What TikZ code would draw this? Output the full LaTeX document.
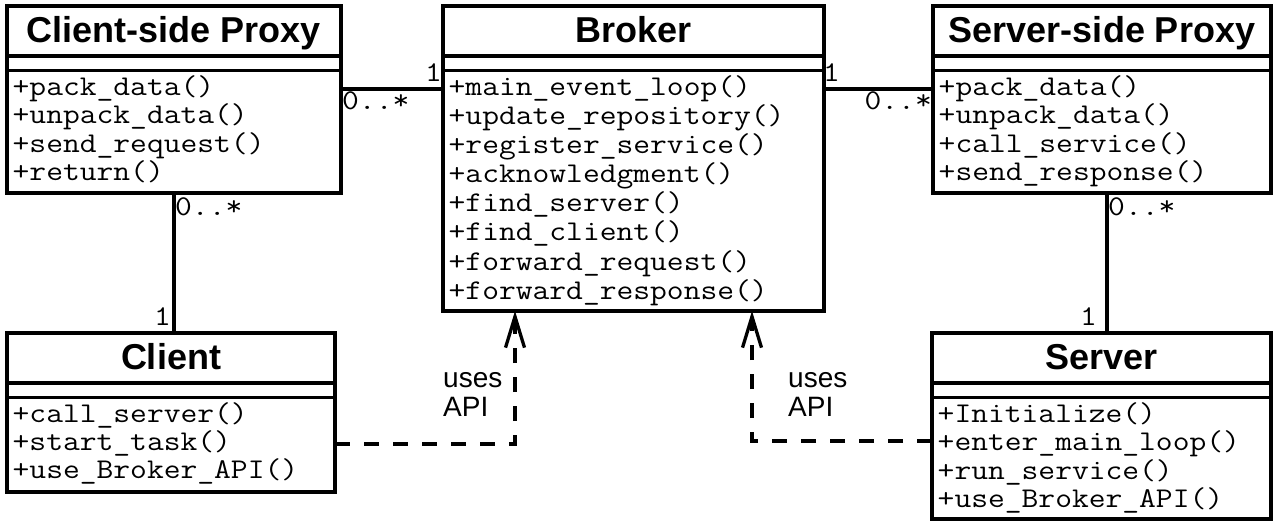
\documentclass[tikz,border=0pt]{standalone}
\usepackage{fontspec}
\setmainfont{Liberation Sans}
\usetikzlibrary{calc,arrows.meta}

% Courier-like typewriter text: Latin Modern Mono widened to Courier's advance
\newcommand{\cour}[1]{\scalebox{1.14}[1]{#1}}

\tikzset{
  classbox/.style={draw, line width=3.3pt, inner sep=0pt, outer sep=0pt},
  boxline/.style={line width=3.3pt},
  titletext/.style={font=\fontsize{36}{40}\selectfont\bfseries, inner sep=0pt},
  methodtext/.style={font=\fontsize{28.6}{29}\selectfont\ttfamily, inner sep=0pt},
  multtext/.style={font=\fontsize{28.6}{29}\selectfont\ttfamily, inner sep=0pt},
  notetext/.style={font=\fontsize{28}{29}\selectfont, inner sep=0pt},
  assoc/.style={line width=3.3pt},
  dependency/.style={line width=3.3pt, dash pattern=on 15pt off 14pt,
    -{Straight Barb[length=31pt,width=19pt,line width=3.3pt]}},
}

% UML class: name, left x, top y, width, height, method pitch, title, methods
\newcommand{\umlclass}[8]{%
  \node[classbox, minimum width=#4pt, minimum height=#5pt, anchor=north west] (#1) at (#2,#3) {};
  \draw[boxline] ($(#1.north west)+(0,50)$) -- ($(#1.north east)+(0,50)$);
  \draw[boxline] ($(#1.north west)+(0,64.5)$) -- ($(#1.north east)+(0,64.5)$);
  \node[titletext, anchor=base] (#1-title) at ($(#1.north)+(0,36.5)$) {#7};
  \foreach \m [count=\i from 0] in {#8} {
    \node[methodtext, anchor=base west] (#1-m\i) at ($(#1.north west)+(5.5,89.5+\i*#6)$) {\cour{\m}};
  }%
}

\begin{document}
\begin{tikzpicture}[x=1pt, y=-1pt]
  \useasboundingbox (0,0) rectangle (1274,521);

  \umlclass{csp}{7}{6}{334}{187}{28.5}{Client-side Proxy}
    {+pack\_data(), +unpack\_data(), +send\_request(), +return()}
  \umlclass{broker}{443}{6}{381}{305}{29.1}{Broker}
    {+main\_event\_loop(), +update\_repository(), +register\_service(),
     +acknowledgment(), +find\_server(), +find\_client(),
     +forward\_request(), +forward\_response()}
  \umlclass{ssp}{933}{6}{338}{187}{28.5}{Server-side Proxy}
    {+pack\_data(), +unpack\_data(), +call\_service(), +send\_response()}
  \umlclass{client}{7}{333}{328}{159}{28}{Client}
    {+call\_server(), +start\_task(), +use\_Broker\_API()}
  \umlclass{server}{932}{333}{339}{186}{28.3}{Server}
    {+Initialize(), +enter\_main\_loop(), +run\_service(), +use\_Broker\_API()}

  % associations
  \draw[assoc] ($(csp.north east)+(0,83)$) -- ($(broker.north west)+(0,83)$);
  \draw[assoc] ($(broker.north east)+(0,83)$) -- ($(ssp.north west)+(0,83)$);
  \draw[assoc] (csp.south) -- (client.north -| csp.south);
  \coordinate (sspdrop) at ($(ssp.south)+(5,0)$);
  \draw[assoc] (sspdrop) -- (server.north -| sspdrop);

  % multiplicities
  \node[multtext, anchor=base east] (m1) at (442,82) {\cour{1}};
  \node[multtext, anchor=base west] (m2) at (342,110) {\cour{0..*}};
  \node[multtext, anchor=base west] (m3) at (823,82) {\cour{1}};
  \node[multtext, anchor=base east] (m4) at (932,110) {\cour{0..*}};
  \node[multtext, anchor=base west] (m5) at (175,216) {\cour{0..*}};
  \node[multtext, anchor=base east] (m6) at (171,325) {\cour{1}};
  \node[multtext, anchor=base west] (m7) at (1108,216) {\cour{0..*}};
  \node[multtext, anchor=base east] (m8) at (1097,325) {\cour{1}};

  % API dependencies
  \draw[dependency] ($(client.north east)+(0,111)$) -| ($(broker.south west)+(72,0)$);
  \draw[dependency] ($(server.north west)+(0,108)$) -| ($(broker.south east)+(-72,0)$);

  \node[notetext, anchor=base west] (u1a) at (443,387) {uses};
  \node[notetext, anchor=base west] (u1b) at (443,416) {API};
  \node[notetext, anchor=base west] (u2a) at (788,387) {uses};
  \node[notetext, anchor=base west] (u2b) at (788,416) {API};
\end{tikzpicture}
\end{document}
